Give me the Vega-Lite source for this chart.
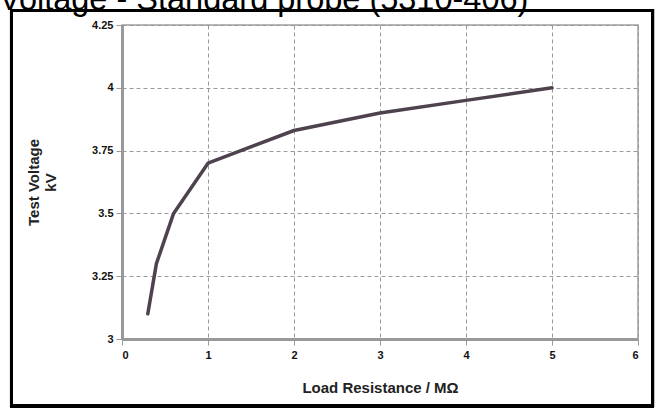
{
  "$schema": "https://vega.github.io/schema/vega-lite/v6.json",
  "autosize": {"type": "none"},
  "width": 516,
  "height": 314,
  "padding": {"left": 122, "top": 25, "right": 20, "bottom": 69},
  "background": "white",
  "title": {
    "text": "Voltage - Standard probe (5310-406)",
    "anchor": "start",
    "frame": "group",
    "font": "Liberation Sans",
    "fontSize": 32.5,
    "fontWeight": "normal",
    "color": "black",
    "baseline": "alphabetic",
    "offset": 0,
    "dx": -123,
    "dy": 33
  },
  "config": {
    "view": {"stroke": "#a0a0a0", "strokeWidth": 1.5},
    "axis": {
      "labelFont": "Liberation Sans Narrow, Liberation Sans, sans-serif",
      "labelFontWeight": "bold",
      "labelFontSize": 11,
      "labelColor": "#111",
      "titleFont": "Liberation Sans, Arial, sans-serif",
      "titleFontWeight": "bold",
      "titleFontSize": 15,
      "titleColor": "#222",
      "domainColor": "#999",
      "domainWidth": 3,
      "tickColor": "#999",
      "tickSize": 6,
      "gridColor": "#999",
      "gridDash": [4, 3],
      "gridWidth": 1
    }
  },
  "data": {
    "values": [
      {"resistance": 0.3, "voltage": 3.1},
      {"resistance": 0.4, "voltage": 3.3},
      {"resistance": 0.6, "voltage": 3.5},
      {"resistance": 1, "voltage": 3.7},
      {"resistance": 2, "voltage": 3.83},
      {"resistance": 3, "voltage": 3.9},
      {"resistance": 4, "voltage": 3.95},
      {"resistance": 5, "voltage": 4.0}
    ]
  },
  "layer": [
    {
      "mark": {"type": "line", "color": "#4f424f", "strokeWidth": 3.5, "strokeJoin": "round", "strokeCap": "round"},
      "encoding": {
        "x": {
          "field": "resistance",
          "type": "quantitative",
          "scale": {"domain": [0, 6], "nice": false, "zero": false},
          "axis": {
            "values": [0, 1, 2, 3, 4, 5, 6],
            "format": "d",
            "title": "Load Resistance / MΩ",
            "labelPadding": 4,
            "titlePadding": 20
          }
        },
        "y": {
          "field": "voltage",
          "type": "quantitative",
          "scale": {"domain": [3, 4.25], "nice": false, "zero": false},
          "axis": {
            "values": [3, 3.25, 3.5, 3.75, 4, 4.25],
            "format": ".2~f",
            "title": ["Test Voltage", "kV"],
            "labelPadding": 3,
            "titlePadding": 33
          }
        }
      }
    },
    {
      "mark": {"type": "rect", "fill": null, "stroke": "black", "strokeWidth": 3, "clip": false},
      "encoding": {
        "x": {"datum": -1.285, "type": "quantitative"},
        "x2": {"datum": 6.169},
        "y": {"datum": 4.3077, "type": "quantitative"},
        "y2": {"datum": 2.7333}
      }
    }
  ]
}
